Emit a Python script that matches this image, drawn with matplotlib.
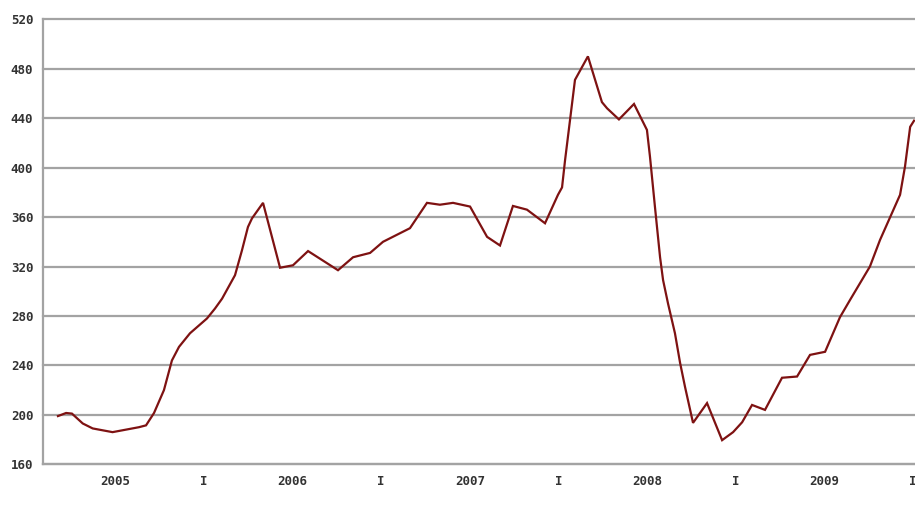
import matplotlib
matplotlib.use("Agg")
import matplotlib.pyplot as plt

# decimal-year positions and index values
dates = [
    2005.176, 2005.222, 2005.255, 2005.316, 2005.372, 2005.484, 2005.540,
    2005.633, 2005.673, 2005.718, 2005.774, 2005.819, 2005.859, 2005.921,
    2006.017, 2006.062, 2006.102, 2006.175, 2006.214, 2006.248, 2006.271,
    2006.333, 2006.429, 2006.502, 2006.587, 2006.756, 2006.841, 2006.937,
    2007.010, 2007.162, 2007.258, 2007.331, 2007.405, 2007.501, 2007.597,
    2007.670, 2007.743, 2007.822, 2007.924, 2007.997, 2008.020, 2008.037,
    2008.065, 2008.093, 2008.166, 2008.245, 2008.274, 2008.341, 2008.426,
    2008.499, 2008.516, 2008.544, 2008.573, 2008.590, 2008.618, 2008.657,
    2008.686, 2008.714, 2008.759, 2008.838, 2008.923, 2008.985, 2009.036,
    2009.092, 2009.165, 2009.261, 2009.346, 2009.419, 2009.504, 2009.588,
    2009.645, 2009.757, 2009.814, 2009.927, 2009.955, 2009.984, 2010.006,
]
values = [
    199, 201.5, 201, 193, 189, 186, 187.5,
    190, 191.5, 201.5, 220, 244, 255, 266,
    278, 286, 294, 313, 333, 352, 359,
    371.5, 319, 321, 332.5, 317, 327.5, 331,
    340, 351, 371.5, 370, 371.5, 368.5, 344,
    337, 369, 366, 355, 378, 384, 406,
    438.5, 471, 490, 453, 448, 439, 451.5,
    430.5, 409, 368.5, 327.5, 309, 290, 266,
    242, 222.5, 193.5, 209.5, 179.5, 186, 194,
    208, 204, 230, 231, 248.5, 251, 279,
    293, 320, 341.5, 378, 401, 433, 438,
]

y_ticks = [160, 200, 240, 280, 320, 360, 400, 440, 480, 520]
x_label_pos = [2005.5, 2006.0, 2006.5, 2007.0, 2007.5, 2008.0, 2008.5, 2009.0, 2009.5, 2010.0]
x_labels = ["2005", "I", "2006", "I", "2007", "I", "2008", "I", "2009", "I"]

fig = plt.figure(figsize=(9.15, 5.12), dpi=100)
ax = fig.add_axes([0.047, 0.0932, 0.953, 0.8691])

grid_c = "#a3a3a3"
ax.plot(dates, values, color="#7e1212", lw=1.6, solid_joinstyle="miter", zorder=3)

ax.set_xlim(2005.0917, 2010.0113)
ax.set_ylim(160, 520)
ax.set_yticks(y_ticks)
ax.set_xticks(x_label_pos)
ax.set_xticklabels(x_labels)
ax.yaxis.grid(True, color=grid_c, lw=1.6)
ax.set_axisbelow(True)
for gl in ax.get_ygridlines():
    gl.set_clip_on(False)

for s in ["top", "right"]:
    ax.spines[s].set_visible(False)
for s in ["left", "bottom"]:
    ax.spines[s].set_color(grid_c)
    ax.spines[s].set_linewidth(1.6)

ax.tick_params(axis="both", length=0, colors="#333333", labelsize=9)
ax.tick_params(axis="y", pad=7)
ax.tick_params(axis="x", pad=8)
for lab in ax.get_xticklabels() + ax.get_yticklabels():
    lab.set_family("DejaVu Sans Mono")
    lab.set_fontweight("bold")

fig.savefig("out.png", dpi=100)
